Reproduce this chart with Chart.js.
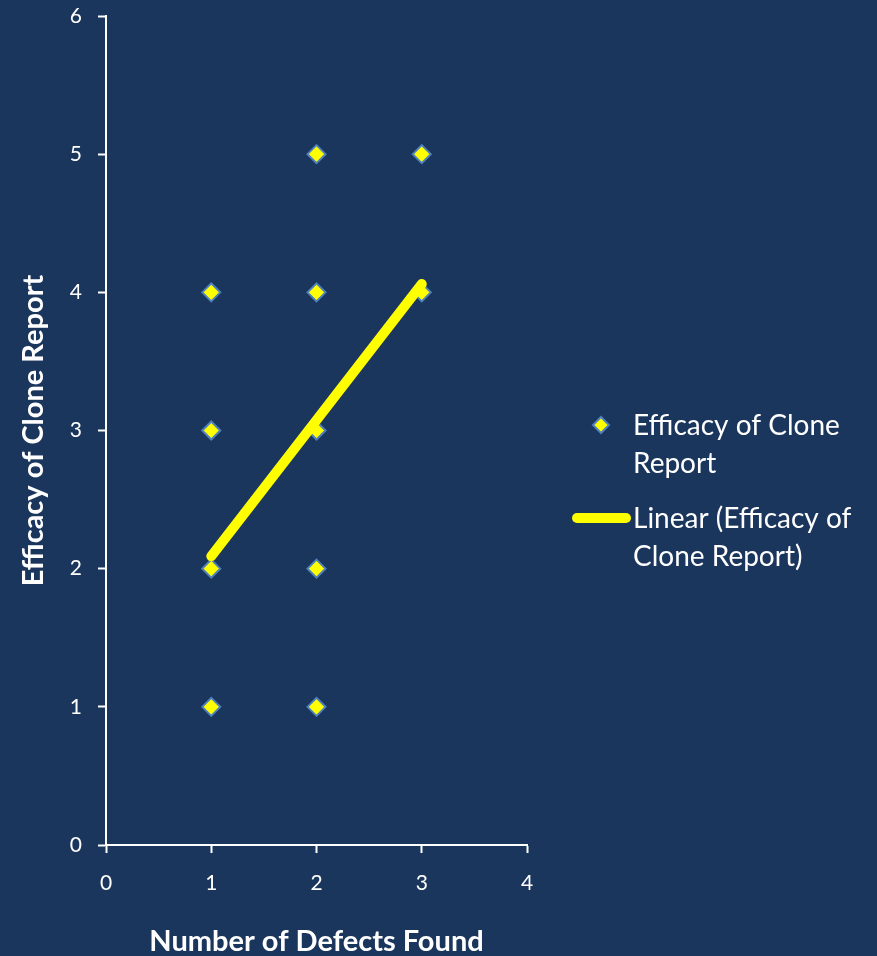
<!DOCTYPE html>
<html>
<head>
<meta charset="utf-8">
<script src="https://cdn.jsdelivr.net/npm/chart.js@4.4.1/dist/chart.umd.min.js"></script>
<style>
  html, body { margin: 0; padding: 0; background: #1b365d; }
  #wrap { width: 877px; height: 956px; }
</style>
</head>
<body>
<div id="wrap"><canvas id="chart"></canvas></div>
<script>
// reported defects vs. efficacy rating
const defectsFound = [1, 1, 1, 1, 2, 2, 2, 2, 2, 3, 3];
const efficacy = [1, 2, 3, 4, 1, 2, 3, 4, 5, 4, 5];
const trendX = [1, 3];
const trendY = [2.09, 4.06];
const xTicks = [0, 1, 2, 3, 4];
const yTicks = [0, 1, 2, 3, 4, 5, 6];

const seriesName = 'Efficacy of Clone Report';
const trendName = 'Linear (Efficacy of Clone Report)';

const points = defectsFound.map((x, i) => ({ x: x, y: efficacy[i] }));
const trend = trendX.map((x, i) => ({ x: x, y: trendY[i] }));

// legend drawn by hand so the text can wrap like the original
const sideLegend = {
    id: 'sideLegend',
    afterDraw(chart) {
        const ctx = chart.ctx;
        ctx.save();
        ctx.font = '28px Lato';
        ctx.textBaseline = 'middle';
        ctx.textAlign = 'left';

        // diamond marker
        const mx = 601, my = 425, r = 8;
        ctx.beginPath();
        ctx.moveTo(mx, my - r);
        ctx.lineTo(mx + r, my);
        ctx.lineTo(mx, my + r);
        ctx.lineTo(mx - r, my);
        ctx.closePath();
        ctx.fillStyle = '#ffff00';
        ctx.fill();
        ctx.strokeStyle = '#4f81bd';
        ctx.lineWidth = 2;
        ctx.stroke();

        ctx.fillStyle = '#ffffff';
        ctx.fillText('Efficacy of Clone', 633, 426);
        ctx.fillText('Report', 633, 464);

        // trend line sample
        ctx.beginPath();
        ctx.moveTo(577, 518);
        ctx.lineTo(626, 518);
        ctx.strokeStyle = '#ffff00';
        ctx.lineWidth = 10;
        ctx.lineCap = 'round';
        ctx.stroke();

        ctx.fillText('Linear (Efficacy of', 633, 519);
        ctx.fillText('Clone Report)', 633, 557);
        ctx.restore();
    }
};

new Chart(document.getElementById('chart'), {
    type: 'scatter',
    data: {
        datasets: [{
            label: seriesName,
            data: points,
            pointStyle: 'rectRot',
            pointRadius: 9,
            pointHoverRadius: 9,
            backgroundColor: '#ffff00',
            borderColor: '#4f81bd',
            borderWidth: 2,
            order: 2
        }, {
            label: trendName,
            type: 'line',
            data: trend,
            borderColor: '#ffff00',
            borderWidth: 10,
            borderCapStyle: 'round',
            pointRadius: 0,
            fill: false,
            order: 1
        }]
    },
    options: {
        responsive: true,
        maintainAspectRatio: false,
        animation: false,
        layout: {
            padding: { top: 16, right: 350, bottom: 0, left: 0 }
        },
        plugins: {
            legend: { display: false },
            tooltip: { enabled: false }
        },
        scales: {
            x: {
                type: 'linear',
                min: 0,
                max: 4,
                afterBuildTicks: s => { s.ticks = xTicks.map(v => ({ value: v })); },
                afterFit: s => { s.height = 111; s.paddingRight = 0; },
                border: { color: '#ffffff', width: 2 },
                grid: { drawOnChartArea: false, color: '#ffffff', tickLength: 8, tickWidth: 2 },
                ticks: { color: '#ffffff', font: { family: 'Lato', size: 21 }, padding: 18 },
                title: {
                    display: true,
                    text: 'Number of Defects Found',
                    color: '#ffffff',
                    font: { family: 'Lato', size: 29, weight: 'bold' },
                    padding: { top: 0, bottom: -3 }
                }
            },
            y: {
                type: 'linear',
                min: 0,
                max: 6,
                afterBuildTicks: s => { s.ticks = yTicks.map(v => ({ value: v })); },
                afterFit: s => { s.width = 106; s.paddingTop = 0; s.paddingBottom = 0; },
                border: { color: '#ffffff', width: 2 },
                grid: { drawOnChartArea: false, color: '#ffffff', tickLength: 8, tickWidth: 2 },
                ticks: { color: '#ffffff', font: { family: 'Lato', size: 21 }, padding: 16 },
                title: {
                    display: true,
                    text: 'Efficacy of Clone Report',
                    color: '#ffffff',
                    font: { family: 'Lato', size: 29, weight: 'bold' },
                    padding: { top: 16, bottom: 0 }
                }
            }
        }
    },
    plugins: [sideLegend]
});
</script>
</body>
</html>
